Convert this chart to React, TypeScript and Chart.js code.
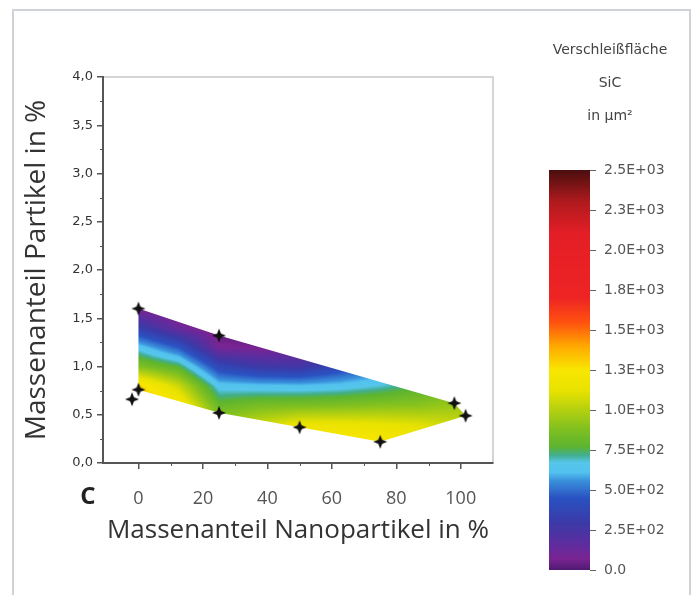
import React, { useEffect, useRef } from 'react';
import { Chart, registerables } from 'chart.js';

Chart.register(...registerables);

// ---- data ----
const xTicks = [0, 20, 40, 60, 80, 100];
const xMinorTicks = [10, 30, 50, 70, 90];
const yTicks = [0, 0.5, 1, 1.5, 2, 2.5, 3, 3.5, 4];
const yMinorTicks = [0.25, 0.75, 1.25, 1.75, 2.25, 2.75, 3.25, 3.75];

// measurement points (black markers)
const measX = [0, 25, 0, -2, 25, 50, 75, 98, 101.5];
const measY = [1.6, 1.32, 0.76, 0.66, 0.52, 0.37, 0.22, 0.62, 0.49];

// outline of the interpolated region
const hullX = [0, 25, 98, 101.5, 75, 50, 25, 0];
const hullY = [1.6, 1.32, 0.62, 0.49, 0.22, 0.37, 0.52, 0.76];

// contour grid (rows = gridY ascending, columns = gridX)
const gridX = [0, 12.5, 25, 37.5, 50, 62.5, 75, 87.5, 100];
const gridY = [0.2, 0.4, 0.6, 0.8, 1.0, 1.2, 1.4, 1.6];
const gridZ = [
  [1500, 1400, 1200, 1250, 1300, 1280, 1260, 1200, 1100],
  [1450, 1350, 950, 1050, 1150, 1150, 1130, 1100, 1040],
  [1400, 1250, 800, 850, 860, 870, 890, 900, 950],
  [1300, 1050, 640, 620, 610, 630, 680, 760, 850],
  [880, 760, 380, 280, 260, 380, 500, 700, 800],
  [640, 450, 80, 60, 60, 250, 380, 600, 700],
  [330, 120, 0, 0, 30, 150, 300, 500, 600],
  [60, 0, 0, 0, 0, 80, 200, 400, 500],
];

const cbTicks = [0, 250, 500, 750, 1000, 1250, 1500, 1750, 2000, 2250, 2500];
const cbTitle = ['Verschleißfläche', 'SiC', 'in µm²'];

// ---- styles ----
const cmapStops: [number, string][] = [
  [0, '#4e1a72'],
  [70, '#7a2492'],
  [160, '#5e2c9e'],
  [300, '#3a3aa8'],
  [450, '#2a52c2'],
  [560, '#3a92dc'],
  [610, '#52c2ee'],
  [670, '#56c6ec'],
  [720, '#42ae8a'],
  [770, '#5cb430'],
  [880, '#80c020'],
  [1000, '#b4d010'],
  [1120, '#e8e200'],
  [1250, '#f8e600'],
  [1400, '#ffa800'],
  [1550, '#ff5010'],
  [1700, '#ee2424'],
  [2100, '#e41e26'],
  [2300, '#b01a1e'],
  [2500, '#4a0e0e'],
];

const hexRgb = (h: string) => [
  parseInt(h.slice(1, 3), 16),
  parseInt(h.slice(3, 5), 16),
  parseInt(h.slice(5, 7), 16),
];
const stopsRgb = cmapStops.map(([v, c]) => [v, hexRgb(c)] as [number, number[]]);

function colorAt(z: number): number[] {
  if (z <= stopsRgb[0][0]) return stopsRgb[0][1];
  for (let i = 0; i < stopsRgb.length - 1; i++) {
    const [v0, c0] = stopsRgb[i];
    const [v1, c1] = stopsRgb[i + 1];
    if (z <= v1) {
      const t = (z - v0) / (v1 - v0);
      return [0, 1, 2].map((k) => Math.round(c0[k] + (c1[k] - c0[k]) * t));
    }
  }
  return stopsRgb[stopsRgb.length - 1][1];
}

function seg(arr: number[], v: number): [number, number] {
  const c = Math.min(Math.max(v, arr[0]), arr[arr.length - 1]);
  let i = 0;
  while (i < arr.length - 2 && c > arr[i + 1]) i++;
  return [i, (c - arr[i]) / (arr[i + 1] - arr[i])];
}

function interp(x: number, y: number): number {
  const [i, tx] = seg(gridX, x);
  const [j, ty] = seg(gridY, y);
  const z00 = gridZ[j][i], z10 = gridZ[j][i + 1];
  const z01 = gridZ[j + 1][i], z11 = gridZ[j + 1][i + 1];
  const a = z00 + (z10 - z00) * tx;
  const b = z01 + (z11 - z01) * tx;
  return a + (b - a) * ty;
}

function makeStar(): HTMLCanvasElement {
  const c = document.createElement('canvas');
  c.width = 16;
  c.height = 16;
  const g = c.getContext('2d')!;
  g.fillStyle = '#111';
  g.beginPath();
  for (let k = 0; k < 8; k++) {
    const a = (k * Math.PI) / 4 - Math.PI / 2;
    const r = k % 2 === 0 ? 7 : 2.8;
    const px = 8 + r * Math.cos(a);
    const py = 8 + r * Math.sin(a);
    if (k === 0) g.moveTo(px, py);
    else g.lineTo(px, py);
  }
  g.closePath();
  g.fill();
  return c;
}

const fmtCb = (v: number) => {
  if (v === 0) return '0.0';
  const [m, e] = v.toExponential(1).split('e');
  const ex = parseInt(e, 10);
  return m + 'E' + (ex >= 0 ? '+' : '-') + String(Math.abs(ex)).padStart(2, '0');
};

const framePlugin = {
  id: 'frameBox',
  beforeDraw(chart: any) {
    const { ctx, chartArea: a } = chart;
    ctx.save();
    ctx.strokeStyle = '#c8c8c8';
    ctx.lineWidth = 1.5;
    ctx.beginPath();
    ctx.moveTo(a.left, a.top);
    ctx.lineTo(a.right, a.top);
    ctx.lineTo(a.right, a.bottom);
    ctx.stroke();
    ctx.restore();
  },
};

const heatPlugin = {
  id: 'heat',
  beforeDatasetsDraw(chart: any) {
    const { ctx } = chart;
    const xs = chart.scales.x;
    const ys = chart.scales.y;
    const px = hullX.map((v) => xs.getPixelForValue(v));
    const py = hullY.map((v) => ys.getPixelForValue(v));
    const bx0 = Math.floor(Math.min(...px)) - 1;
    const bx1 = Math.ceil(Math.max(...px)) + 1;
    const by0 = Math.floor(Math.min(...py)) - 1;
    const by1 = Math.ceil(Math.max(...py)) + 1;
    const w = bx1 - bx0;
    const h = by1 - by0;
    const off = document.createElement('canvas');
    off.width = w;
    off.height = h;
    const octx = off.getContext('2d')!;
    const img = octx.createImageData(w, h);
    for (let j = 0; j < h; j++) {
      const dv = ys.getValueForPixel(by0 + j + 0.5);
      for (let i = 0; i < w; i++) {
        const du = xs.getValueForPixel(bx0 + i + 0.5);
        const col = colorAt(interp(du, dv));
        const k = (j * w + i) * 4;
        img.data[k] = col[0];
        img.data[k + 1] = col[1];
        img.data[k + 2] = col[2];
        img.data[k + 3] = 255;
      }
    }
    octx.putImageData(img, 0, 0);
    ctx.save();
    ctx.beginPath();
    px.forEach((p, i) => (i ? ctx.lineTo(p, py[i]) : ctx.moveTo(p, py[i])));
    ctx.closePath();
    ctx.clip();
    ctx.drawImage(off, bx0, by0);
    ctx.restore();
  },
};

const minorPlugin = {
  id: 'minorTicks',
  afterDraw(chart: any) {
    const { ctx, chartArea: a } = chart;
    const xs = chart.scales.x;
    const ys = chart.scales.y;
    ctx.save();
    ctx.strokeStyle = '#555';
    ctx.lineWidth = 1;
    ctx.beginPath();
    xMinorTicks.forEach((v) => {
      const p = Math.round(xs.getPixelForValue(v)) + 0.5;
      ctx.moveTo(p, a.bottom);
      ctx.lineTo(p, a.bottom + 3);
    });
    yMinorTicks.forEach((v) => {
      const p = Math.round(ys.getPixelForValue(v)) + 0.5;
      ctx.moveTo(a.left, p);
      ctx.lineTo(a.left - 3, p);
    });
    ctx.stroke();
    // panel letter
    ctx.fillStyle = '#222';
    ctx.font = 'bold 24px "Open Sans"';
    ctx.textAlign = 'center';
    ctx.textBaseline = 'middle';
    ctx.fillText('C', 88, 497);
    ctx.restore();
  },
};

const gradientPlugin = {
  id: 'cbGradient',
  beforeDatasetsDraw(chart: any) {
    const { ctx, chartArea: a } = chart;
    const ys = chart.scales.y;
    ctx.save();
    for (let yy = Math.floor(a.top); yy < Math.ceil(a.bottom); yy++) {
      const v = ys.getValueForPixel(yy + 0.5);
      const c = colorAt(v);
      ctx.fillStyle = `rgb(${c[0]},${c[1]},${c[2]})`;
      ctx.fillRect(a.left, yy, a.right - a.left, 1);
    }
    ctx.restore();
  },
};

export default function App() {
  const mainRef = useRef<HTMLCanvasElement>(null);
  const cbRef = useRef<HTMLCanvasElement>(null);

  useEffect(() => {
    const star = makeStar();
    const main = new Chart(mainRef.current!, {
      type: 'scatter',
      data: {
        datasets: [
          {
            data: measX.map((x, i) => ({ x, y: measY[i] })),
            pointStyle: star as any,
            pointRadius: 8,
            backgroundColor: '#111',
            borderColor: '#111',
          },
        ],
      },
      options: {
        animation: false,
        responsive: false,
        layout: { padding: { left: 0, right: 27, top: 77, bottom: 0 } },
        plugins: { legend: { display: false }, tooltip: { enabled: false } },
        scales: {
          x: {
            type: 'linear',
            min: -11,
            max: 110,
            afterBuildTicks: (s: any) => {
              s.ticks = xTicks.map((v) => ({ value: v }));
            },
            afterFit: (s: any) => {
              s.height = 132;
            },
            grid: { drawOnChartArea: false, tickLength: 6, color: '#555', lineWidth: 1.5 },
            border: { color: '#555', width: 2 },
            ticks: {
              padding: 19,
              color: '#555',
              font: { family: '"Open Sans"', size: 18 },
              callback: (v: any) => String(v),
            },
            title: {
              display: true,
              text: 'Massenanteil Nanopartikel in %',
              color: '#333',
              font: { family: '"Open Sans"', size: 26 },
              padding: { top: 0, bottom: 49 },
            },
          },
          y: {
            type: 'linear',
            min: 0,
            max: 4,
            afterBuildTicks: (s: any) => {
              s.ticks = yTicks.map((v) => ({ value: v }));
            },
            afterFit: (s: any) => {
              s.width = 103;
            },
            grid: { drawOnChartArea: false, tickLength: 6, color: '#555', lineWidth: 1.5 },
            border: { color: '#555', width: 2 },
            ticks: {
              padding: 4,
              color: '#333',
              font: { family: '"DejaVu Sans"', size: 13 },
              callback: (v: any) => Number(v).toFixed(1).replace('.', ','),
            },
            title: {
              display: true,
              text: 'Massenanteil Partikel in %',
              color: '#333',
              font: { family: '"Open Sans"', size: 28 },
              padding: { top: 20, bottom: 0 },
            },
          },
        },
      },
      plugins: [framePlugin, heatPlugin, minorPlugin],
    });

    const cb = new Chart(cbRef.current!, {
      type: 'scatter',
      data: { datasets: [] },
      options: {
        animation: false,
        responsive: false,
        layout: { padding: { left: 0, right: 0, top: 0, bottom: 25 } },
        plugins: {
          legend: { display: false },
          tooltip: { enabled: false },
          title: {
            display: true,
            text: cbTitle,
            color: '#444',
            font: { family: '"DejaVu Sans"', size: 14, lineHeight: '33px', weight: 'normal' },
            padding: { top: 34, bottom: 37 },
          },
        },
        scales: {
          x: { display: false, min: 0, max: 1 },
          y: {
            position: 'right',
            min: 0,
            max: 2500,
            afterBuildTicks: (s: any) => {
              s.ticks = cbTicks.map((v) => ({ value: v }));
            },
            afterFit: (s: any) => {
              s.width = 81;
            },
            grid: { drawOnChartArea: false, tickLength: 6, color: '#666' },
            border: { display: false },
            ticks: {
              padding: 8,
              color: '#555',
              font: { family: '"DejaVu Sans"', size: 14 },
              callback: (v: any) => fmtCb(Number(v)),
            },
          },
        },
      },
      plugins: [gradientPlugin],
    });

    return () => {
      main.destroy();
      cb.destroy();
    };
  }, []);

  return (
    <div
      style={{
        position: 'fixed',
        left: 0,
        top: 0,
        width: 697,
        height: 595,
        background: '#fff',
        overflow: 'hidden',
      }}
    >
      <div
        style={{
          position: 'absolute',
          left: 12,
          top: 9,
          width: 675,
          height: 640,
          border: '2px solid #cfd3d7',
          borderBottom: 'none',
        }}
      />
      <canvas
        ref={mainRef}
        width={520}
        height={595}
        style={{ position: 'absolute', left: 0, top: 0, width: 520, height: 595 }}
      />
      <canvas
        ref={cbRef}
        width={122}
        height={595}
        style={{ position: 'absolute', left: 549, top: 0, width: 122, height: 595 }}
      />
    </div>
  );
}
